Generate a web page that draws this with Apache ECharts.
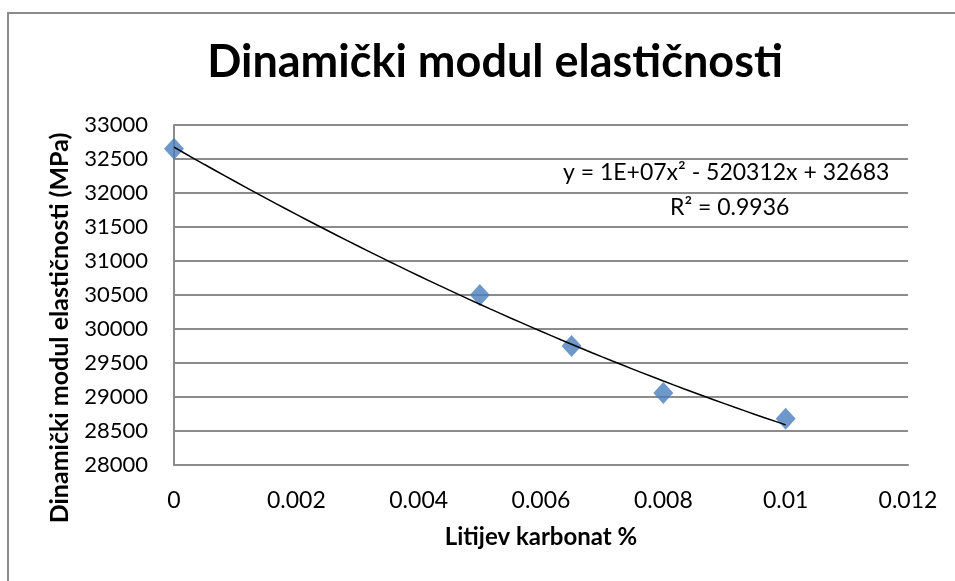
<!DOCTYPE html>
<html>
<head>
<meta charset="utf-8">
<script src="https://cdn.jsdelivr.net/npm/echarts@6/dist/echarts.min.js"></script>
<style>
  html, body { margin: 0; padding: 0; background: #fff; }
  #chart { width: 955px; height: 581px; }
</style>
</head>
<body>
<div id="chart"></div>
<script>
// measured points (Litijev karbonat %, modul in MPa)
const litij = [0, 0.005, 0.0065, 0.008, 0.01];
const modul = [32650, 30500, 29750, 29060, 28680];
const trendText = ["y = 1E+07x\u00b2 - 520312x + 32683", "R\u00b2 = 0.9936"];

const font = "Lato, 'Open Sans', sans-serif";

// least squares quadratic fit, same as the Excel trendline
function polyFit2(xs, ys) {
  let s = [0, 0, 0, 0, 0], t = [0, 0, 0];
  for (let i = 0; i < xs.length; i++) {
    let p = 1;
    for (let k = 0; k < 5; k++) { s[k] += p; if (k < 3) t[k] += p * ys[i]; p *= xs[i]; }
  }
  const m = [[s[0], s[1], s[2], t[0]], [s[1], s[2], s[3], t[1]], [s[2], s[3], s[4], t[2]]];
  for (let i = 0; i < 3; i++) {
    for (let j = i + 1; j < 3; j++) {
      const f = m[j][i] / m[i][i];
      for (let k = i; k < 4; k++) m[j][k] -= f * m[i][k];
    }
  }
  const c = [0, 0, 0];
  for (let i = 2; i >= 0; i--) {
    let v = m[i][3];
    for (let k = i + 1; k < 3; k++) v -= m[i][k] * c[k];
    c[i] = v / m[i][i];
  }
  return c; // c0 + c1 x + c2 x^2
}

const coef = polyFit2(litij, modul);
const trend = [];
const x0 = litij[0], x1 = litij[litij.length - 1];
for (let i = 0; i <= 60; i++) {
  const x = x0 + (x1 - x0) * i / 60;
  trend.push([x, coef[0] + coef[1] * x + coef[2] * x * x]);
}

const chart = echarts.init(document.getElementById("chart"));
chart.setOption({
  animation: false,
  backgroundColor: "#fff",
  title: {
    text: "Dinami\u010dki modul elasti\u010dnosti",
    left: 490, top: 35, textAlign: "center",
    textStyle: { fontFamily: font, fontWeight: "bold", fontSize: 45, color: "#000" }
  },
  grid: { left: 174, right: 47, top: 125, bottom: 116 },
  xAxis: {
    type: "value", min: 0, max: 0.012, interval: 0.002,
    name: "Litijev karbonat %", nameLocation: "middle", nameGap: 60,
    nameTextStyle: { fontFamily: font, fontWeight: "bold", fontSize: 24, color: "#000" },
    axisLine: { show: true, lineStyle: { color: "#8c8c8c", width: 2 } },
    axisTick: { show: false },
    splitLine: { show: false },
    axisLabel: { fontFamily: font, fontSize: 23, color: "#000", margin: 24 }
  },
  yAxis: {
    type: "value", min: 28000, max: 33000, interval: 500,
    name: "Dinami\u010dki modul elasti\u010dnosti (MPa)", nameLocation: "middle", nameGap: 102,
    nameTextStyle: { fontFamily: font, fontWeight: "bold", fontSize: 25, color: "#000", padding: [0, 66, 0, 0] },
    axisLine: { show: true, lineStyle: { color: "#8c8c8c", width: 2 } },
    axisTick: { show: false },
    splitLine: { show: true, lineStyle: { color: "#8c8c8c", width: 2 } },
    axisLabel: { fontFamily: font, fontSize: 22, color: "#000", margin: 26, formatter: v => String(v) }
  },
  graphic: [
    {
      type: "rect", shape: { x: 8, y: 13, width: 1000, height: 700 },
      style: { fill: null, stroke: "#8c8c8c", lineWidth: 2 }, silent: true, z: -10
    },
    {
      type: "text", left: 563, top: 161,
      style: { text: trendText[0], fontFamily: font, fontSize: 23, fill: "#000" }
    },
    {
      type: "text", left: 670, top: 196,
      style: { text: trendText[1], fontFamily: font, fontSize: 23, fill: "#000" }
    }
  ],
  series: [
    {
      type: "line", data: trend, showSymbol: false, smooth: false,
      lineStyle: { color: "#000", width: 1.5 }, z: 3
    },
    {
      type: "scatter", data: litij.map((x, i) => [x, modul[i]]),
      symbol: "diamond", symbolSize: [20, 22],
      itemStyle: { color: "#4a7ebb" }, z: 2
    }
  ]
});
</script>
</body>
</html>
